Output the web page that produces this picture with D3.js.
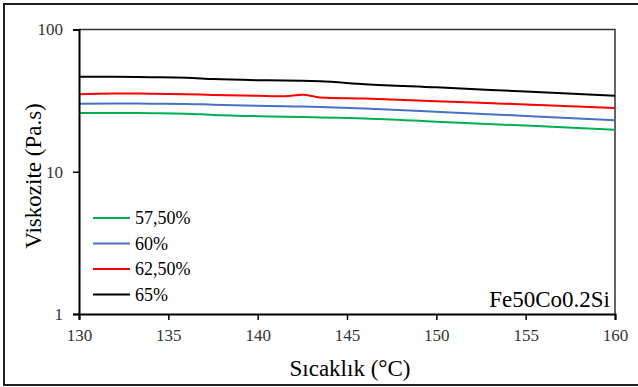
<!DOCTYPE html>
<html>
<head>
<meta charset="utf-8">
<script src="https://cdn.jsdelivr.net/npm/d3@7"></script>
<style>
  body { margin: 0; background: #fff; }
  #chart, #chart text { font-family: "Liberation Serif", "DejaVu Serif", "Noto Serif", serif !important; }
</style>
</head>
<body>
<svg id="chart" width="638" height="387"></svg>
<script>
// temperatures (°C) shared by all series
const temps = [130, 132, 134, 136, 137.5, 140, 141.5, 142.5, 143.5, 146, 150, 155, 160];

const seriesNames = ["57,50%", "60%", "62,50%", "65%"];
const seriesColors = ["#00b050", "#4472c4", "#ff0000", "#000000"];

// viscosity (Pa.s)
const v5750 = [25.9, 25.9, 25.8, 25.6, 25.1, 24.6, 24.4, 24.3, 24.1, 23.7, 22.5, 21.1, 19.7];
const v60   = [30.1, 30.2, 30.1, 30.0, 29.6, 29.1, 28.9, 28.7, 28.5, 27.8, 26.4, 24.7, 23.0];
const v6250 = [35.0, 35.5, 35.4, 35.1, 34.7, 34.2, 33.9, 34.8, 33.3, 32.7, 31.3, 29.7, 28.1];
const v65   = [46.6, 46.5, 46.2, 45.8, 44.8, 44.0, 43.8, 43.6, 43.2, 41.3, 39.2, 36.6, 34.2];

const xTicks = [130, 135, 140, 145, 150, 155, 160];
const yTicks = [1, 10, 100];

const allSeries = [v5750, v60, v6250, v65];

// plot area
const margin = { top: 29.5, right: 23, bottom: 73, left: 79 },
  W = 638, H = 387,
  width = W - margin.left - margin.right,
  height = H - margin.top - margin.bottom;

const svg = d3.select("#chart");

// outer border
svg.append("rect")
  .attr("x", 4).attr("y", 4)
  .attr("width", 640).attr("height", 381)
  .attr("fill", "none").attr("stroke", "#222").attr("stroke-width", 2);

const g = svg.append("g")
  .attr("transform", "translate(" + margin.left + "," + margin.top + ")");

const x = d3.scaleLinear().domain([130, 160]).range([0, width]);
const y = d3.scaleLog().domain([1, 100]).range([height, 0]);

// frame top/right
g.append("path")
  .attr("d", "M0,0H" + width + "V" + height)
  .attr("fill", "none").attr("stroke", "#333").attr("stroke-width", 1.5);

// lines
const line = d3.line()
  .x((d, i) => x(temps[i]))
  .y(d => y(d))
  .curve(d3.curveMonotoneX);

allSeries.forEach(function (vals, k) {
  g.append("path")
    .datum(vals)
    .attr("fill", "none")
    .attr("stroke", seriesColors[k])
    .attr("stroke-width", 2)
    .attr("d", line);
});

// x axis
const xAxis = g.append("g")
  .attr("transform", "translate(0," + height + ")")
  .call(d3.axisBottom(x).tickValues(xTicks).tickSize(6).tickPadding(9).tickFormat(d3.format("d")))
  .attr("font-size", 17);
xAxis.select(".domain").attr("stroke", "#000").attr("stroke-width", 2);
xAxis.selectAll(".tick line").attr("stroke", "#000").attr("stroke-width", 1.5);
xAxis.selectAll("text").attr("fill", "#333");

// y axis
const yAxis = g.append("g")
  .call(d3.axisLeft(y).tickValues(yTicks).tickSize(6).tickPadding(10).tickFormat(d3.format("d")))
  .attr("font-size", 17);
yAxis.select(".domain").attr("stroke", "#000").attr("stroke-width", 2);
yAxis.selectAll(".tick line").attr("stroke", "#000").attr("stroke-width", 1.5);
yAxis.selectAll("text").attr("fill", "#333");

// axis titles
svg.append("text")
  .attr("x", 350).attr("y", 376)
  .attr("text-anchor", "middle")
  .attr("font-size", 23)
  .text("Sıcaklık  (°C)");

svg.append("text")
  .attr("transform", "translate(41," + 176 + ") rotate(-90)")
  .attr("text-anchor", "middle")
  .attr("font-size", 23)
  .text("Viskozite (Pa.s)");

// legend
const legend = svg.append("g").attr("transform", "translate(93,218)");
seriesNames.forEach(function (name, k) {
  const row = legend.append("g").attr("transform", "translate(0," + (k * 25.5) + ")");
  row.append("line")
    .attr("x1", 0).attr("x2", 37)
    .attr("stroke", seriesColors[k]).attr("stroke-width", 2);
  row.append("text")
    .attr("x", 42).attr("y", 6)
    .attr("font-size", 18)
    .text(name);
});

// annotation
svg.append("text")
  .attr("x", 610).attr("y", 307)
  .attr("text-anchor", "end")
  .attr("font-size", 23)
  .text("Fe50Co0.2Si");
</script>
</body>
</html>
